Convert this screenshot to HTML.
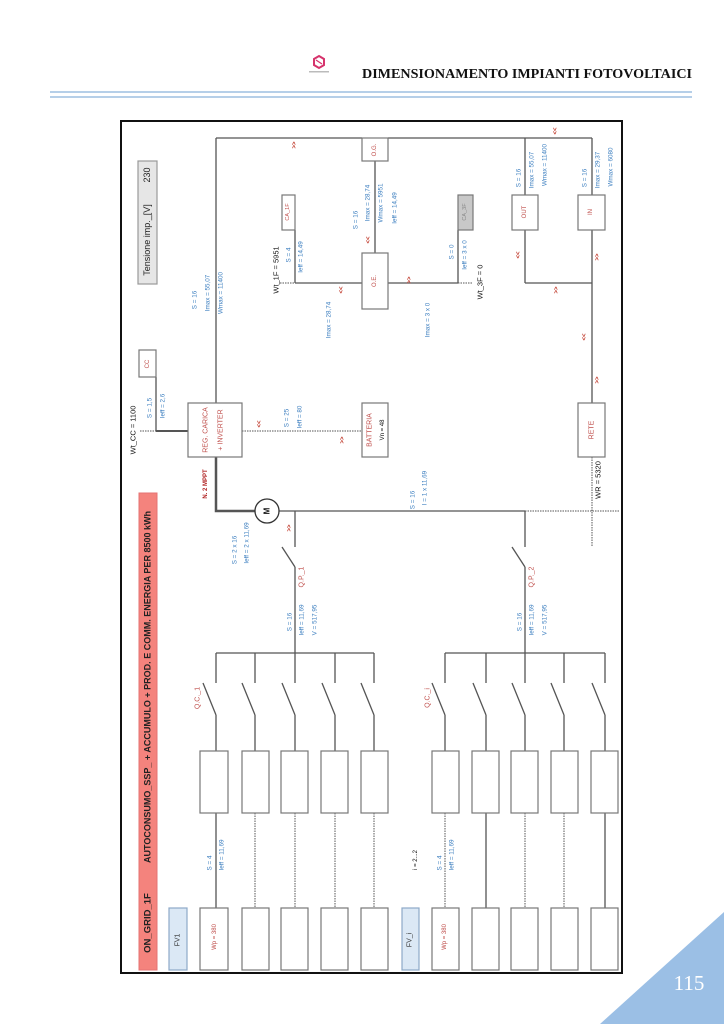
<!DOCTYPE html>
<html><head><meta charset="utf-8"><style>
html,body{margin:0;padding:0;background:#fff;}
svg{display:block;}
text{font-family:"Liberation Sans",sans-serif;}
.b{fill:#3a7dbf;font-size:6.3px;}
.r{fill:#c0504d;font-size:7px;}
.k{fill:#111;font-size:7.5px;}
.ar{fill:#c0392b;font-size:6px;font-weight:bold;}
</style></head><body>
<svg width="724" height="1024" viewBox="0 0 724 1024" xmlns="http://www.w3.org/2000/svg">
<g transform="translate(319,62)">
<polygon points="0,-6 5,-3 5,3 0,6 -5,3 -5,-3" fill="none" stroke="#d6336c" stroke-width="2"/>
<line x1="-3" y1="-2" x2="3" y2="2" stroke="#d6336c" stroke-width="1.2"/>
</g>
<rect x="309" y="71" width="20" height="1.5" fill="#bbb"/>
<text x="692" y="78" text-anchor="end" textLength="330" lengthAdjust="spacingAndGlyphs" style="font-family:'Liberation Serif',serif;font-weight:bold;font-size:14px;fill:#111">DIMENSIONAMENTO IMPIANTI FOTOVOLTAICI</text>
<line x1="50" y1="92" x2="692" y2="92" stroke="#9dbfe0" stroke-width="1.5"/>
<line x1="50" y1="97" x2="692" y2="97" stroke="#9dbfe0" stroke-width="1.5"/>
<polygon points="600,1024 724,912 724,1024" fill="#9bbfe5"/>
<text x="689" y="990" text-anchor="middle" style="font-family:'Liberation Serif',serif;font-size:21px;fill:#fff">115</text>

<rect x="121" y="121" width="501" height="852" fill="#fff" stroke="#111" stroke-width="2"/>

<g stroke="#555" stroke-width="1.3" fill="none">
<line x1="216" y1="138" x2="362" y2="138"/>
<line x1="388" y1="138" x2="592" y2="138"/>
<line x1="216" y1="138" x2="216" y2="403"/>
<line x1="525" y1="138" x2="525" y2="283"/>
<line x1="592" y1="138" x2="592" y2="403"/>
<line x1="525" y1="283" x2="592" y2="283"/>
<line x1="375" y1="161" x2="375" y2="253"/>
<line x1="295" y1="230" x2="295" y2="283"/>
<line x1="295" y1="283" x2="362" y2="283"/>
<line x1="388" y1="283" x2="458" y2="283"/>
<line x1="458" y1="230" x2="458" y2="283"/>
<line x1="156" y1="377" x2="156" y2="431"/>
<line x1="156" y1="431" x2="188" y2="431" stroke-width="2"/>
<polyline points="216,457 216,511 255,511" stroke-width="2.5"/>
<line x1="279" y1="511" x2="525" y2="511"/>
<line x1="295" y1="511" x2="295" y2="547"/>
<line x1="525" y1="511" x2="525" y2="547"/>
<line x1="282" y1="547" x2="295" y2="567"/>
<line x1="512" y1="547" x2="525" y2="567"/>
<line x1="295" y1="567" x2="295" y2="653"/>
<line x1="525" y1="567" x2="525" y2="653"/>
<line x1="216" y1="653" x2="374" y2="653"/>
<line x1="445" y1="653" x2="605" y2="653"/>
</g>
<g stroke="#555" stroke-width="1" stroke-dasharray="1.5,1" fill="none">
<line x1="140" y1="431" x2="156" y2="431"/>
<line x1="242" y1="431" x2="362" y2="431"/>
<line x1="280" y1="283" x2="295" y2="283"/>
<line x1="458" y1="283" x2="472" y2="283"/>
<line x1="525" y1="511" x2="620" y2="511"/>
<line x1="592" y1="457" x2="592" y2="547"/>
</g>
<circle cx="267" cy="511" r="12" fill="#fff" stroke="#333" stroke-width="1.3"/>
<text transform="translate(267 511) rotate(-90)" text-anchor="middle" dominant-baseline="central" style="font-size:8px;font-weight:bold;fill:#111">M</text>

<g stroke="#555" stroke-width="1.3" fill="none">
<path d="M216 653V683 M203 683L216 715 M216 715V751 M216 813V908"/>
<path d="M255 653V683 M242 683L255 715 M255 715V751"/>
<path d="M295 653V683 M282 683L295 715 M295 715V751"/>
<path d="M335 653V683 M322 683L335 715 M335 715V751"/>
<path d="M374 653V683 M361 683L374 715 M374 715V751"/>
<path d="M445 653V683 M432 683L445 715 M445 715V751"/>
<path d="M486 653V683 M473 683L486 715 M486 715V751 M486 813V908"/>
<path d="M525 653V683 M512 683L525 715 M525 715V751"/>
<path d="M564 653V683 M551 683L564 715 M564 715V751"/>
<path d="M605 653V683 M592 683L605 715 M605 715V751 M605 813V908"/>
</g>
<g stroke="#555" stroke-width="1" stroke-dasharray="1.5,1" fill="none">
<path d="M255 813V908 M295 813V908 M335 813V908 M374 813V908 M445 813V908 M525 813V908 M564 813V908"/>
</g>
<g fill="#fff" stroke="#777" stroke-width="1.2">
<rect x="200" y="751" width="28" height="62"/><rect x="242" y="751" width="27" height="62"/><rect x="281" y="751" width="27" height="62"/><rect x="321" y="751" width="27" height="62"/><rect x="361" y="751" width="27" height="62"/>
<rect x="432" y="751" width="27" height="62"/><rect x="472" y="751" width="27" height="62"/><rect x="511" y="751" width="27" height="62"/><rect x="551" y="751" width="27" height="62"/><rect x="591" y="751" width="27" height="62"/>
<rect x="200" y="908" width="28" height="62"/><rect x="242" y="908" width="27" height="62"/><rect x="281" y="908" width="27" height="62"/><rect x="321" y="908" width="27" height="62"/><rect x="361" y="908" width="27" height="62"/>
<rect x="432" y="908" width="27" height="62"/><rect x="472" y="908" width="27" height="62"/><rect x="511" y="908" width="27" height="62"/><rect x="551" y="908" width="27" height="62"/><rect x="591" y="908" width="27" height="62"/>
<rect x="188" y="403" width="54" height="54"/>
<rect x="139" y="350" width="17" height="27"/>
<rect x="362" y="138" width="26" height="23"/>
<rect x="362" y="403" width="26" height="54"/>
<rect x="362" y="253" width="26" height="56"/>
<rect x="282" y="195" width="13" height="35"/>
<rect x="512" y="195" width="26" height="35"/>
<rect x="578" y="195" width="27" height="35"/>
<rect x="578" y="403" width="27" height="54"/>
<rect x="458" y="195" width="15" height="35" fill="#c8c8c8"/>
<rect x="138" y="161" width="19" height="123" fill="#e6e6e6" stroke="#999"/>
<rect x="169" y="908" width="18" height="62" fill="#dbe8f5" stroke="#8ea9c8"/>
<rect x="402" y="908" width="17" height="62" fill="#dbe8f5" stroke="#8ea9c8"/>
</g>
<rect x="139" y="493" width="18" height="477" fill="#f4837d" stroke="#e57373"/>

<g text-anchor="middle" dominant-baseline="central">
<text transform="translate(148 923) rotate(-90)" style="font-size:9.5px;font-weight:bold;fill:#222">ON_GRID_1F</text>
<text transform="translate(148 687) rotate(-90)" textLength="352" lengthAdjust="spacingAndGlyphs" style="font-size:9.5px;font-weight:bold;fill:#222">AUTOCONSUMO_SSP_ + ACCUMULO + PROD. E COMM. ENERGIA PER 8500 kWh</text>
<text transform="translate(147 240) rotate(-90)" style="font-size:9px;fill:#222">Tensione imp._[V]</text>
<text transform="translate(147 175) rotate(-90)" style="font-size:9px;fill:#222">230</text>
<text transform="translate(178 940) rotate(-90)" style="font-size:7px;fill:#333">FV1</text>
<text transform="translate(410 940) rotate(-90)" style="font-size:7px;fill:#333">FV_i</text>

<text class="k" transform="translate(133 430) rotate(-90)">Wt_CC = 1100</text>
<text class="b" transform="translate(150 408) rotate(-90)">S = 1,5</text>
<text class="b" transform="translate(163 406) rotate(-90)">Ieff = 2,6</text>
<text class="r" transform="translate(148 364) rotate(-90)" style="font-size:6px">CC</text>
<text class="b" transform="translate(195 300) rotate(-90)">S = 16</text>
<text class="b" transform="translate(208 293) rotate(-90)">Imax = 55,07</text>
<text class="b" transform="translate(221 293) rotate(-90)">Wmax = 11400</text>
<text class="r" transform="translate(206 430) rotate(-90)">REG. CARICA</text>
<text class="r" transform="translate(221 430) rotate(-90)">+ INVERTER</text>
<text transform="translate(206 484) rotate(-90)" style="font-size:6px;font-weight:bold;fill:#b02020">N. 2 MPPT</text>
<text class="ar" transform="translate(260 424) rotate(-90)">&lt;&lt;</text>
<text class="ar" transform="translate(343 440) rotate(-90)">&gt;&gt;</text>
<text class="b" transform="translate(287 418) rotate(-90)">S = 25</text>
<text class="b" transform="translate(300 417) rotate(-90)">Ieff = 80</text>
<text class="ar" transform="translate(295 145) rotate(-90)">&gt;&gt;</text>
<text class="k" transform="translate(276 270) rotate(-90)">Wt_1F = 5951</text>
<text class="b" transform="translate(289 255) rotate(-90)">S = 4</text>
<text class="b" transform="translate(301 257) rotate(-90)">Ieff = 14,49</text>
<text class="r" transform="translate(288 212) rotate(-90)" style="font-size:5.5px">CA_1F</text>
<text class="ar" transform="translate(342 290) rotate(-90)">&lt;&lt;</text>
<text class="b" transform="translate(329 320) rotate(-90)">Imax = 28,74</text>
<text class="b" transform="translate(356 220) rotate(-90)">S = 16</text>
<text class="ar" transform="translate(369 240) rotate(-90)">&lt;&lt;</text>
<text class="b" transform="translate(368 203) rotate(-90)">Imax = 28,74</text>
<text class="b" transform="translate(381 203) rotate(-90)">Wmax = 5951</text>
<text class="b" transform="translate(395 208) rotate(-90)">Ieff = 14,49</text>
<text class="r" transform="translate(375 150) rotate(-90)" style="font-size:6px">O.G.</text>
<text class="r" transform="translate(375 281) rotate(-90)" style="font-size:6px">O.E.</text>
<text class="ar" transform="translate(410 280) rotate(-90)">&gt;&gt;</text>
<text class="b" transform="translate(428 320) rotate(-90)">Imax = 3 x 0</text>
<text class="b" transform="translate(452 252) rotate(-90)">S = 0</text>
<text class="b" transform="translate(465 255) rotate(-90)">Ieff = 3 x 0</text>
<text class="k" transform="translate(480 282) rotate(-90)">Wt_3F = 0</text>
<text transform="translate(465 212) rotate(-90)" style="font-size:5.5px;fill:#888">CA_3F</text>
<text class="b" transform="translate(519 178) rotate(-90)">S = 16</text>
<text class="b" transform="translate(532 170) rotate(-90)">Imax = 55,07</text>
<text class="b" transform="translate(545 165) rotate(-90)">Wmax = 11400</text>
<text class="r" transform="translate(525 212) rotate(-90)" style="font-size:6px">OUT</text>
<text class="b" transform="translate(585 178) rotate(-90)">S = 16</text>
<text class="b" transform="translate(598 170) rotate(-90)">Imax = 29,37</text>
<text class="b" transform="translate(611 167) rotate(-90)">Wmax = 6080</text>
<text class="r" transform="translate(591 212) rotate(-90)" style="font-size:6px">IN</text>
<text class="ar" transform="translate(556 131) rotate(-90)">&lt;&lt;</text>
<text class="ar" transform="translate(519 255) rotate(-90)">&lt;&lt;</text>
<text class="ar" transform="translate(598 257) rotate(-90)">&gt;&gt;</text>
<text class="ar" transform="translate(557 290) rotate(-90)">&gt;&gt;</text>
<text class="ar" transform="translate(585 337) rotate(-90)">&lt;&lt;</text>
<text class="ar" transform="translate(598 380) rotate(-90)">&gt;&gt;</text>
<text class="r" transform="translate(370 430) rotate(-90)">BATTERIA</text>
<text class="k" transform="translate(383 430) rotate(-90)" style="font-size:6px">Vn = 48</text>
<text class="r" transform="translate(592 430) rotate(-90)">RETE</text>
<text class="k" transform="translate(598 480) rotate(-90)">WR = 5320</text>
<text class="b" transform="translate(413 500) rotate(-90)">S = 16</text>
<text class="b" transform="translate(425 488) rotate(-90)">I = 1 x 11,69</text>
<text class="ar" transform="translate(290 528) rotate(-90)">&gt;&gt;</text>
<text class="b" transform="translate(235 550) rotate(-90)">S = 2 x 16</text>
<text class="b" transform="translate(247 543) rotate(-90)">Ieff = 2 x 11,69</text>
<text class="r" transform="translate(302 577) rotate(-90)">Q.P._1</text>
<text class="r" transform="translate(532 577) rotate(-90)">Q.P._2</text>
<text class="b" transform="translate(290 622) rotate(-90)">S = 16</text>
<text class="b" transform="translate(302 620) rotate(-90)">Ieff = 11,69</text>
<text class="b" transform="translate(315 620) rotate(-90)">V = 517,95</text>
<text class="b" transform="translate(520 622) rotate(-90)">S = 16</text>
<text class="b" transform="translate(532 620) rotate(-90)">Ieff = 11,69</text>
<text class="b" transform="translate(545 620) rotate(-90)">V = 517,95</text>
<text class="r" transform="translate(198 698) rotate(-90)">Q.C._1</text>
<text class="r" transform="translate(428 698) rotate(-90)">Q.C._i</text>
<text class="b" transform="translate(210 863) rotate(-90)">S = 4</text>
<text class="b" transform="translate(222 855) rotate(-90)">Ieff = 11,69</text>
<text class="b" transform="translate(440 863) rotate(-90)">S = 4</text>
<text class="b" transform="translate(452 855) rotate(-90)">Ieff = 11,69</text>
<text class="k" transform="translate(416 860) rotate(-90)" style="font-size:6px">i = 2...2</text>
<text class="r" transform="translate(215 937) rotate(-90)" style="font-size:6px">Wp = 380</text>
<text class="r" transform="translate(445 937) rotate(-90)" style="font-size:6px">Wp = 380</text>
</g>
</svg>
</body></html>
